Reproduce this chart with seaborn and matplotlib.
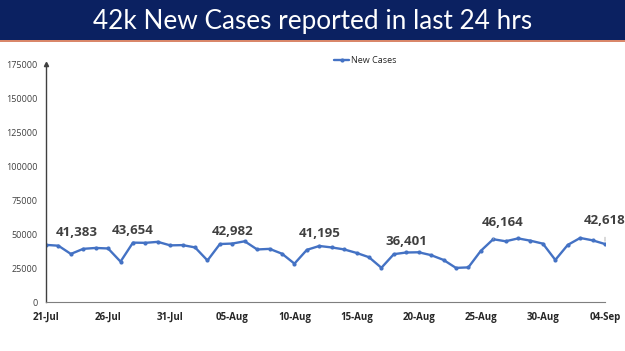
import matplotlib
matplotlib.use("Agg")
import matplotlib.pyplot as plt
import seaborn as sns
import pandas as pd
from matplotlib.patches import Rectangle

# data
dates = ["21-Jul", "22-Jul", "23-Jul", "24-Jul", "25-Jul", "26-Jul", "27-Jul", "28-Jul",
         "29-Jul", "30-Jul", "31-Jul", "01-Aug", "02-Aug", "03-Aug", "04-Aug", "05-Aug",
         "06-Aug", "07-Aug", "08-Aug", "09-Aug", "10-Aug", "11-Aug", "12-Aug", "13-Aug",
         "14-Aug", "15-Aug", "16-Aug", "17-Aug", "18-Aug", "19-Aug", "20-Aug", "21-Aug",
         "22-Aug", "23-Aug", "24-Aug", "25-Aug", "26-Aug", "27-Aug", "28-Aug", "29-Aug",
         "30-Aug", "31-Aug", "01-Sep", "02-Sep", "03-Sep", "04-Sep"]
new_cases = [42015, 41383, 35342, 39097, 39742, 39361, 29689, 43654,
             43509, 44230, 41649, 41831, 40134, 30549, 42625, 42982,
             44643, 38628, 39070, 35499, 28204, 38353, 41195, 40120,
             38667, 36083, 32937, 25166, 35178, 36401, 36571, 34457,
             30948, 25072, 25467, 37593, 46164, 44658, 46759, 45083,
             42909, 30941, 41965, 47092, 45352, 42618]
labelled = ["22-Jul", "28-Jul", "05-Aug", "12-Aug", "19-Aug", "26-Aug", "04-Sep"]

df = pd.DataFrame({"day": range(len(dates)), "date": dates, "New Cases": new_cases})

sns.set_style("white")
plt.rcParams['font.family'] = ['Open Sans', 'DejaVu Sans']

fig = plt.figure(figsize=(6.25, 3.51), dpi=100)
ax = fig.add_axes([0.0736, 0.1396, 0.8944, 0.678])

# title banner
fig.patches.append(Rectangle((0, 1 - 40 / 351), 1, 40 / 351, transform=fig.transFigure,
                             facecolor="#0b2161", edgecolor="none", zorder=0))
fig.patches.append(Rectangle((0, 1 - 42 / 351), 1, 2 / 351, transform=fig.transFigure,
                             facecolor="#d9876a", edgecolor="none", zorder=0))
fig.text(0.5, 1 - 21 / 351, "42k New Cases reported in last 24 hrs", color="white",
         fontsize=18.8, ha="center", va="center", family=["Lato", "DejaVu Sans"])

sns.lineplot(data=df, x="day", y="New Cases", ax=ax, color="#4472c4", linewidth=1.7,
             marker="o", markersize=3, markeredgewidth=0, label="New Cases")

ax.set_xlim(0, len(dates) - 1)
ax.set_ylim(0, 175000)
ax.set_yticks(range(0, 175001, 25000))
ax.set_yticklabels([str(v) for v in range(0, 175001, 25000)], fontsize=6.5, color="#404040")
xt = list(range(0, len(dates), 5))
ax.set_xticks(xt)
ax.set_xticklabels([dates[i] for i in xt], fontsize=7, fontweight="bold", color="#262626")
ax.tick_params(axis="x", direction="out", length=4, width=0.8, color="#7f7f7f", pad=3)
ax.tick_params(axis="y", length=0, pad=6)
ax.set_xlabel("")
ax.set_ylabel("")
for s in ["top", "right"]:
    ax.spines[s].set_visible(False)
ax.spines["left"].set_color("#404040")
ax.spines["bottom"].set_color("#7f7f7f")
ax.spines["left"].set_linewidth(1.0)
ax.plot([0], [175000], marker="^", color="#404040", markersize=3, clip_on=False)

# value labels, offsets in points (text centre relative to the point)
offsets = {"22-Jul": (13, 9.5), "28-Jul": (0, 9), "05-Aug": (0, 8.5), "12-Aug": (0, 9),
           "19-Aug": (0, 8), "26-Aug": (6.5, 12), "04-Sep": (0, 17)}
leaders = {"26-Aug", "04-Sep"}
for d in labelled:
    i = dates.index(d)
    kw = {}
    if d in leaders:
        kw["arrowprops"] = dict(arrowstyle="-", color="#a6a6a6", lw=0.6, shrinkA=5, shrinkB=2)
    ax.annotate(f"{new_cases[i]:,}", xy=(i, new_cases[i]), xytext=offsets[d],
                textcoords="offset points", ha="center", va="center", fontsize=9.5,
                fontweight="bold", color="#404040", **kw)

ax.legend(loc="center", bbox_to_anchor=(0.571, 1.013), frameon=False, fontsize=6.5,
          handlelength=1.6, handletextpad=0.2)

fig.savefig("out.png", dpi=100)
